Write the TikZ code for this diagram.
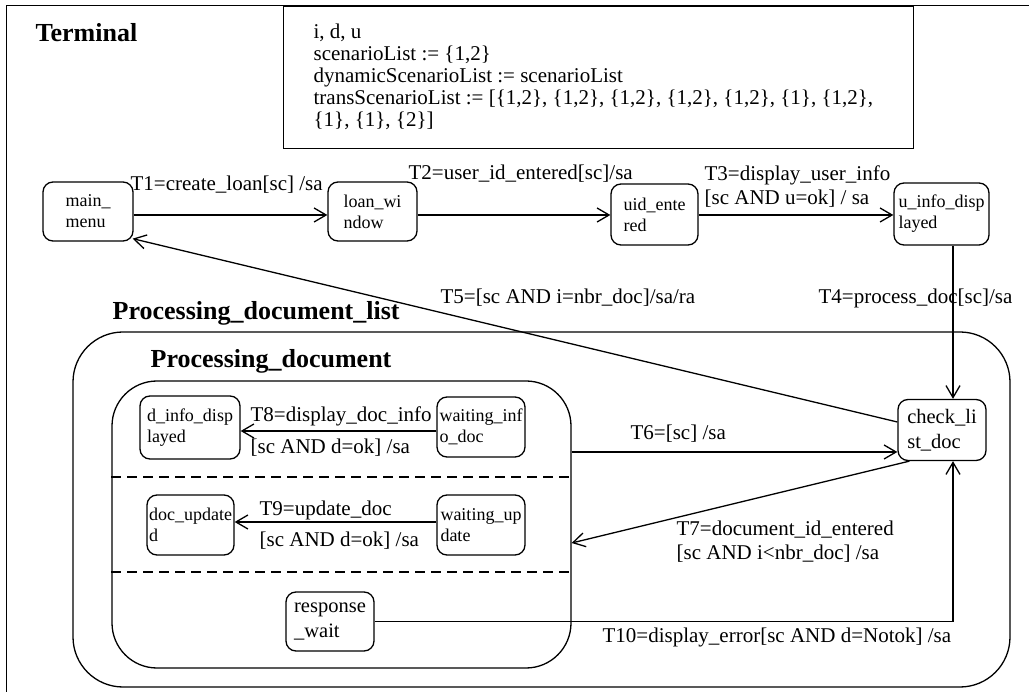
\documentclass[tikz,border=0pt]{standalone}
\usepackage{fontspec}
\setmainfont{Liberation Serif}
\usetikzlibrary{arrows.meta,calc}
\begin{document}
\begin{tikzpicture}[x=1pt,y=-1pt,
  line width=1.3pt,
  state/.style={draw, rounded corners=10pt, align=left, inner sep=2pt,
    font=\fontsize{18}{21}\selectfont},
  bigstate/.style={state, font=\fontsize{20.5}{25}\selectfont},
  region/.style={draw, inner sep=0pt},
  lbl/.style={anchor=base west, inner sep=0pt, font=\fontsize{21}{24}\selectfont},
  lbltwo/.style={anchor=north west, align=left, inner sep=0pt, font=\fontsize{21}{24}\selectfont},
  title/.style={anchor=base west, inner sep=0pt, font=\bfseries\fontsize{26}{30}\selectfont},
  arr/.style={-{Straight Barb[length=12pt,width=14pt]}},
  sep/.style={dash pattern=on 10pt off 6pt}]
\useasboundingbox (0,0) rectangle (1029,692);
\fill[white] (0,0) rectangle (1029,692);

% Terminal frame
\draw[line width=1pt] (6,692) -- (6,6) -- (1029,6);
\node[title] (termtitle) at (35,42) {Terminal};

% variable declarations
\node[draw, anchor=north west, minimum width=630pt, minimum height=142pt, inner sep=0pt] (vars) at (283,6) {};
\node[anchor=north west, align=left, inner sep=0pt, font=\fontsize{21}{22}\selectfont] (varstext) at (313,23.5)
  {i, d, u\\
   scenarioList := \{1,2\}\\
   dynamicScenarioList := scenarioList\\
   transScenarioList := [\{1,2\}, \{1,2\}, \{1,2\}, \{1,2\}, \{1,2\}, \{1\}, \{1,2\},\\
   \{1\}, \{1\}, \{2\}]};

% composite states
\node[region, rounded corners=50pt, minimum width=937pt, minimum height=355pt] (pdl) at (541.5,509.5) {};
\node[region, rounded corners=45pt, minimum width=459pt, minimum height=287pt] (pd) at (341.5,524.5) {};
\node[title] (pdltitle) at (112,320) {Processing\_document\_list};
\node[title] (pdtitle) at (150,368) {Processing\_document};

% concurrent regions of Processing_document
\coordinate (s1) at (0,477);
\coordinate (s2) at (0,572);
\draw[sep] (pd.west |- s1) -- (pd.east |- s1);
\draw[sep] (pd.west |- s2) -- (pd.east |- s2);

% states
\node[state, minimum width=90pt, minimum height=59pt] (main) at (88,211.5) {main\_\\menu};
\node[state, minimum width=89pt, minimum height=59pt] (loan) at (372.5,211.5) {loan\_wi\\ndow};
\node[state, minimum width=87pt, minimum height=61pt] (uid) at (654.5,214.5) {uid\_ente\\red};
\node[state, minimum width=95pt, minimum height=62pt] (uinfo) at (941.5,214) {u\_info\_disp\\layed};
\node[bigstate, minimum width=88pt, minimum height=61pt] (check) at (942,430) {check\_li\\st\_doc};
\node[state, minimum width=100pt, minimum height=63pt] (dinfo) at (190,427.5) {d\_info\_disp\\layed};
\node[state, minimum width=88pt, minimum height=60pt] (winfo) at (481,427) {waiting\_inf\\o\_doc};
\node[state, minimum width=87pt, minimum height=60pt] (docupd) at (190.5,525) {doc\_update\\d};
\node[state, minimum width=88pt, minimum height=60pt] (wupd) at (481,525) {waiting\_up\\date};
\node[bigstate, minimum width=88pt, minimum height=59pt] (resp) at (330,621.5) {response\\\_wait};

% transitions
\coordinate (ty) at (0,215);
\coordinate (tx) at (953,0);
\coordinate (t6) at (0,452);
\coordinate (t7) at (0,543);
\coordinate (t8) at (0,431);
\coordinate (t9) at (0,522);
\draw[arr] (main.east |- ty) -- (loan.west |- ty);
\draw[arr] (loan.east |- ty) -- (uid.west |- ty);
\draw[arr] (uid.east |- ty) -- (uinfo.west |- ty);
\draw[arr] (uinfo.south -| tx) -- (check.north -| tx);
\draw[arr] ($(check.west)+(0,-8)$) -- ($(main.south east)+(-1,-3)$);
\draw[arr] (pd.east |- t6) -- (check.west |- t6);
\draw[arr] ($(check.south west)+(12,0)$) -- (pd.east |- t7);
\draw[arr] (winfo.west |- t8) -- (dinfo.east |- t8);
\draw[arr] (wupd.west |- t9) -- (docupd.east |- t9);
\draw[arr] (resp.east) -| (check.south -| tx);

% transition labels
\node[lbl] (l1) at (130,191) {T1=create\_loan[sc] /sa};
\node[lbl] (l2) at (408,180) {T2=user\_id\_entered[sc]/sa};
\node[lbltwo] (l3) at (704,165.5) {T3=display\_user\_info\\{}[sc AND u=ok] / sa};
\node[lbl] (l4) at (818,304) {T4=process\_doc[sc]/sa};
\node[lbl] (l5) at (440,304) {T5=[sc AND i=nbr\_doc]/sa/ra};
\node[lbl] (l6) at (630,440) {T6=[sc] /sa};
\node[lbltwo] (l7) at (676,520.5) {T7=document\_id\_entered\\{}[sc AND i<nbr\_doc] /sa};
\node[lbl] (l8) at (250,422) {T8=display\_doc\_info};
\node[lbl] (l8g) at (250,454) {[sc AND d=ok] /sa};
\node[lbl] (l9) at (259,516) {T9=update\_doc};
\node[lbl] (l9g) at (259,547) {[sc AND d=ok] /sa};
\node[lbl] (l10) at (602,642) {T10=display\_error[sc AND d=Notok] /sa};
\end{tikzpicture}
\end{document}
